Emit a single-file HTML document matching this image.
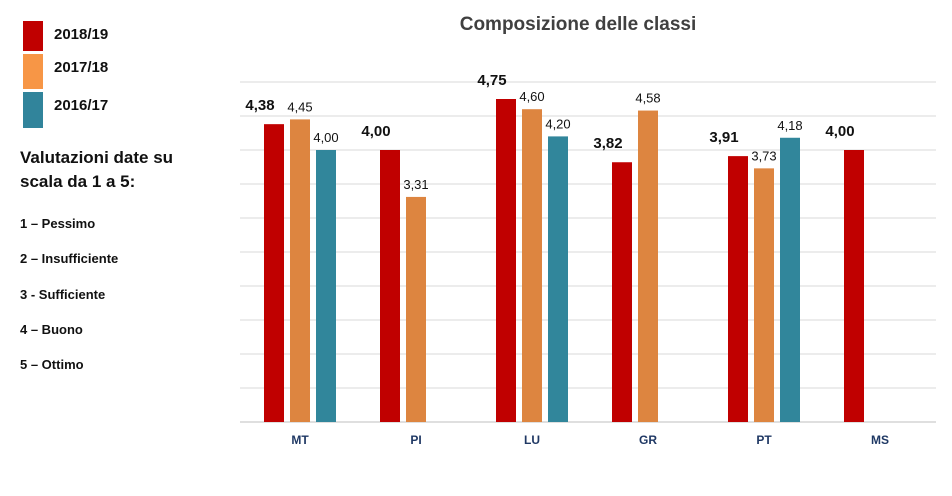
<!DOCTYPE html>
<html><head><meta charset="utf-8"><style>
body{margin:0;background:#fff;width:952px;height:496px;overflow:hidden;font-family:"Liberation Sans",sans-serif}
.lg{position:absolute;font-weight:bold;color:#111}
</style></head><body>
<div>
<div style="position:absolute;left:23px;top:21px;width:20px;height:30px;background:#c00000"></div>
<div style="position:absolute;left:23px;top:54px;width:20px;height:35px;background:#f79646"></div>
<div style="position:absolute;left:23px;top:92px;width:20px;height:36px;background:#31849b"></div>
<div class="lg" style="left:54px;top:26px;font-size:15px">2018/19</div>
<div class="lg" style="left:54px;top:59px;font-size:15px">2017/18</div>
<div class="lg" style="left:54px;top:97px;font-size:15px">2016/17</div>
</div>
<div class="lg" style="left:20px;top:146px;font-size:17px;line-height:24px">Valutazioni date su<br>scala da 1 a 5:</div>
<div class="lg" style="left:20px;top:216px;font-size:13px">1 – Pessimo</div>
<div class="lg" style="left:20px;top:251px;font-size:13px">2 – Insufficiente</div>
<div class="lg" style="left:20px;top:287px;font-size:13px">3 - Sufficiente</div>
<div class="lg" style="left:20px;top:322px;font-size:13px">4 – Buono</div>
<div class="lg" style="left:20px;top:357px;font-size:13px">5 – Ottimo</div>
<svg id="c" width="952" height="496" style="position:absolute;left:0;top:0">
<text x="578" y="30" text-anchor="middle" font-size="19" font-weight="bold" fill="#404040">Composizione delle classi</text>
</svg>
<script>
const categories=["MT","PI","LU","GR","PT","MS"];
const s2018=[4.38,4.00,4.75,3.82,3.91,4.00];
const s2017=[4.45,3.31,4.60,4.58,3.73,null];
const s2016=[4.00,null,4.20,null,4.18,null];
const ticks=[0,0.5,1,1.5,2,2.5,3,3.5,4,4.5,5];
const svg=document.getElementById('c');const NS='http://www.w3.org/2000/svg';
const y=v=>422-v*68;const cx=i=>300+i*116;
function mk(t,a){const e=document.createElementNS(NS,t);for(const k in a)e.setAttribute(k,a[k]);svg.appendChild(e);return e;}
ticks.forEach(t=>{const l=mk('line',{x1:240,x2:936,y1:y(t),y2:y(t),stroke:t===0?'#bfbfbf':'#d9d9d9','stroke-width':1});

});
const series=[[s2018,'#c00000',-36,true],[s2017,'#dd8540',-10,false],[s2016,'#31869b',16,false]];
categories.forEach((c,i)=>{
 const t=mk('text',{x:cx(i),y:444,'text-anchor':'middle','font-size':12,'font-weight':'bold',fill:'#1f3864'});t.textContent=c;
 
 
 series.forEach((s,k)=>{const v=s[0][i];if(v==null)return;
  const r=mk('rect',{x:cx(i)+s[2],y:y(v),width:20,height:y(0)-y(v),fill:s[1]});
  
  
  const tx=cx(i)+s[2]+10+(s[3]?-14:0);
  const lb=mk('text',{x:tx,y:y(v)-(s[3]?14:8),'text-anchor':'middle','font-size':s[3]?15:13,'font-weight':s[3]?'bold':'normal',fill:'#111'});
  lb.textContent=v.toFixed(2).replace('.',',');
  
  
 });
});
</script>
</body></html>
